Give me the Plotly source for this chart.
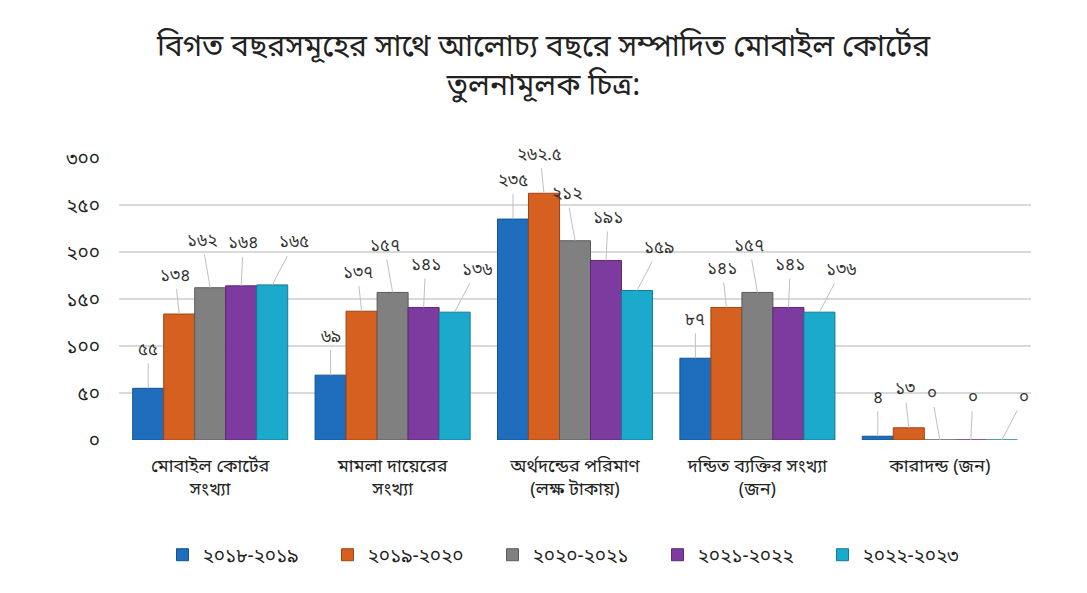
import plotly.graph_objects as go

categories = [
    "মোবাইল কোর্টের<br>সংখ্যা",
    "মামলা দায়েরের<br>সংখ্যা",
    "অর্থদন্ডের পরিমাণ<br>(লক্ষ টাকায়)",
    "দন্ডিত ব্যক্তির সংখ্যা<br>(জন)",
    "কারাদন্ড (জন)",
]
series_names = ["২০১৮-২০১৯", "২০১৯-২০২০", "২০২০-২০২১", "২০২১-২০২২", "২০২২-২০২৩"]
v_2018_19 = [55, 69, 235, 87, 4]
v_2019_20 = [134, 137, 262.5, 141, 13]
v_2020_21 = [162, 157, 212, 157, 0]
v_2021_22 = [164, 141, 191, 141, 0]
v_2022_23 = [165, 136, 159, 136, 0]
y_tick_vals = [0, 50, 100, 150, 200, 250, 300]
y_tick_text = ["০", "৫০", "১০০", "১৫০", "২০০", "২৫০", "৩০০"]

series_values = [v_2018_19, v_2019_20, v_2020_21, v_2021_22, v_2022_23]
colors = ["#1E6EBD", "#D6601F", "#808080", "#7E3B9F", "#1BAACB"]
line_colors = ["#14528F", "#9E4414", "#5A5A5A", "#5B2873", "#137C95"]

BN = str.maketrans("0123456789", "০১২৩৪৫৬৭৮৯")
def bn(v):
    s = ("%g" % v)
    return s.translate(BN)

FONT = "Noto Sans Bengali, Lohit Bengali, FreeSans, Noto Sans, sans-serif"

fig = go.Figure()
xs = list(range(len(categories)))
for name, vals, c, lc in zip(series_names, series_values, colors, line_colors):
    fig.add_trace(go.Bar(
        x=xs, y=vals, name=name,
        marker=dict(color=c, line=dict(color=lc, width=1)),
        hoverinfo="y",
    ))

bargap = 0.15
n = len(series_values)
w = (1 - bargap) / n
ax_off = [0, -4, -8, 2, 22]
ay_off = [-38, -38, -46, -42, -42]
for j, vals in enumerate(series_values):
    for i, v in enumerate(vals):
        xc = i - (1 - bargap) / 2 + (j + 0.5) * w
        fig.add_annotation(
            x=xc, y=v, xref="x", yref="y",
            text=bn(v), showarrow=True, arrowhead=0, arrowwidth=1,
            arrowcolor="#c0c0c0", ax=ax_off[j], ay=ay_off[j], standoff=0,
            font=dict(size=17, color="#333333", family=FONT),
        )

fig.update_layout(
    width=1087, height=593,
    barmode="group", bargap=bargap, bargroupgap=0,
    paper_bgcolor="white", plot_bgcolor="white",
    margin=dict(l=119, r=56, t=158, b=153, autoexpand=False),
    font=dict(family=FONT, color="#222222"),
    title=dict(
        text="বিগত বছরসমূহের সাথে আলোচ্য বছরে সম্পাদিত মোবাইল কোর্টের<br>তুলনামূলক চিত্র:",
        x=0.5, xanchor="center", yref="container", y=0.905, yanchor="top",
        font=dict(size=30, color="#222222", family=FONT),
    ),
    xaxis=dict(
        tickvals=xs, ticktext=categories, range=[-0.5, 4.5],
        showgrid=False, zeroline=False, showline=False,
        tickfont=dict(size=18, color="#222222"), ticks="",
        ticklabelstandoff=13,
    ),
    yaxis=dict(
        range=[0, 300], tickvals=y_tick_vals, ticktext=y_tick_text,
        showgrid=True, gridcolor="#d9d9d9", gridwidth=2,
        zeroline=False, showline=False, ticks="", ticklen=0,
        tickfont=dict(size=19, color="#222222"),
        ticklabelstandoff=18,
    ),
    legend=dict(
        orientation="h", x=0.5, xanchor="center", y=-0.34, yanchor="top",
        font=dict(size=19, color="#222222"), itemwidth=30,
        entrywidth=120, entrywidthmode="pixels",
    ),
    showlegend=True,
)

fig.write_html("out.html")
